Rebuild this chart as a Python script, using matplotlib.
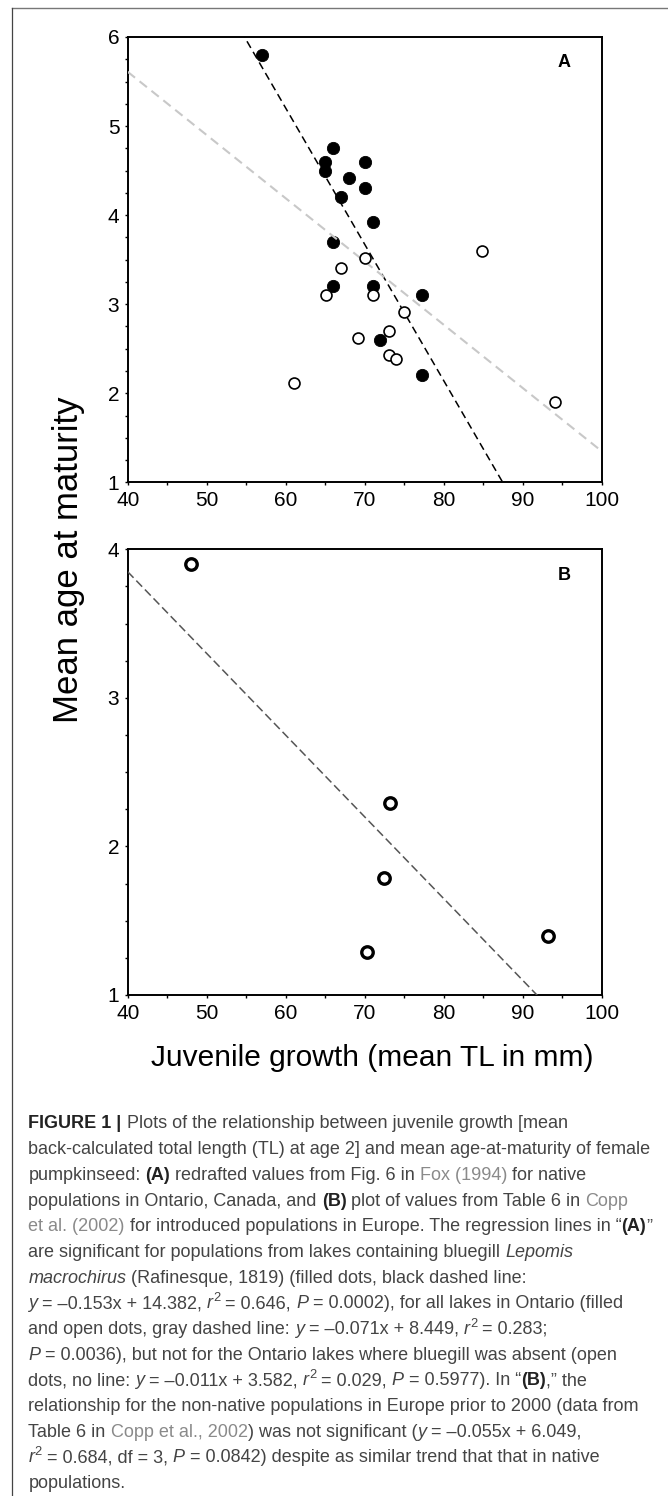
import numpy as np
import matplotlib
matplotlib.use("Agg")
import matplotlib.pyplot as plt
from matplotlib.lines import Line2D
from matplotlib.ticker import MultipleLocator
from matplotlib.transforms import IdentityTransform

W, H = 668, 1496

# panel A: native Ontario lakes (Fox 1994)
bluegill_x = [57, 66, 65, 65, 70, 68, 70, 67, 71, 66, 66, 71, 77.2, 71.9, 77.2]
bluegill_y = [5.8, 4.75, 4.6, 4.5, 4.6, 4.42, 4.3, 4.2, 3.92, 3.7, 3.2, 3.2, 3.1, 2.6, 2.2]
nobluegill_x = [84.9, 70, 67, 65.1, 71, 75, 73.1, 69.1, 73.1, 74, 61.1, 94.1]
nobluegill_y = [3.6, 3.52, 3.41, 3.1, 3.1, 2.91, 2.7, 2.62, 2.43, 2.38, 2.11, 1.9]

# regression lines (slope, intercept) from the caption
fit_bluegill = (-0.153, 14.382)
fit_all = (-0.071, 8.449)
fit_europe = (-0.055, 6.049)

# panel B: introduced populations in Europe (Copp et al. 2002)
europe_x = [48, 73.2, 72.4, 70.3, 93.2]
europe_y = [3.9, 2.29, 1.79, 1.29, 1.4]

x_range = [40, 100]

plt.rcParams['font.family'] = ['Liberation Sans', 'DejaVu Sans']

fig = plt.figure(figsize=(W / 100, H / 100), dpi=100)


def box(left, top, right, bottom):
    return [left / W, 1 - bottom / H, (right - left) / W, (bottom - top) / H]


axA = fig.add_axes(box(127.7, 37, 601.7, 482.3))
axB = fig.add_axes(box(127.7, 549.3, 601.7, 995))

xs = np.array(x_range, dtype=float)

# panel A
axA.scatter(bluegill_x, bluegill_y, s=78, color='black', edgecolor='black', lw=0.6, zorder=2)
axA.plot(xs, fit_bluegill[0] * xs + fit_bluegill[1], color='black', lw=1.1,
         dashes=(5, 3), zorder=3)
axA.plot(xs, fit_all[0] * xs + fit_all[1], color='#c8c8c8', lw=1.5,
         dashes=(4.5, 2.8), zorder=3)
axA.scatter(nobluegill_x, nobluegill_y, s=62, color='white', edgecolor='black', lw=1.2, zorder=4)
axA.set_ylim(1, 6)

# panel B
axB.plot(xs, fit_europe[0] * xs + fit_europe[1], color='#555555', lw=1.1,
         dashes=(5.5, 2.6), zorder=3)
axB.scatter(europe_x, europe_y, s=68, color='white', edgecolor='black', lw=2.4, zorder=4)
axB.set_ylim(1, 4)

for ax, letter in ((axA, 'A'), (axB, 'B')):
    ax.set_xlim(*x_range)
    ax.xaxis.set_major_locator(MultipleLocator(10))
    ax.xaxis.set_minor_locator(MultipleLocator(5))
    ax.yaxis.set_major_locator(MultipleLocator(1))
    ax.yaxis.set_minor_locator(MultipleLocator(0.25))
    ax.tick_params(which='both', direction='out', length=2.5, width=1.0,
                   top=False, right=False)
    ax.tick_params(axis='x', labelsize=15, pad=4.0)
    ax.tick_params(axis='y', labelsize=15, pad=3.5)
    for sp in ax.spines.values():
        sp.set_linewidth(1.4)
    ax.text(0.921, 0.942, letter, transform=ax.transAxes, ha='center', va='center',
            fontsize=13, fontweight='bold')

fig.text(372 / W, 1 - 1058 / H, 'Juvenile growth (mean TL in mm)', ha='center', va='center',
         fontsize=21.5)
fig.text(69 / W, 1 - 560 / H, 'Mean age at maturity', ha='center', va='center',
         rotation=90, fontsize=25)

# frame of the figure panel
fig.add_artist(Line2D([11.5 / W, 1], [1 - 8.3 / H] * 2, transform=fig.transFigure,
                      color='#777777', lw=1.0))
fig.add_artist(Line2D([11.5 / W] * 2, [0, 1 - 8.3 / H], transform=fig.transFigure,
                      color='#444444', lw=0.9))

# caption, one list of (text, style) per printed line
caption = [
    [("FIGURE 1 |", "b"), (" Plots of the relationship between juvenile growth [mean", "")],
    [("back-calculated total length (TL) at age 2] and mean age-at-maturity of female", "")],
    [("pumpkinseed: ", ""), ("(A)", "b"), (" redrafted values from Fig. 6 in ", ""),
     ("Fox (1994)", "l"), (" for native", "")],
    [("populations in Ontario, Canada, and ", ""), ("(B)", "b"),
     (" plot of values from Table 6 in ", ""), ("Copp", "l")],
    [("et al. (2002)", "l"), (" for introduced populations in Europe. The regression lines in \u201c", ""),
     ("(A)", "b"), ("\u201d", "")],
    [("are significant for populations from lakes containing bluegill ", ""), ("Lepomis", "i")],
    [("macrochirus", "i"), (" (Rafinesque, 1819) (filled dots, black dashed line:", "")],
    [("y", "i"), (" = \u20130.153x + 14.382, ", ""), ("r", "i"), ("2", "s"), (" = 0.646, ", ""),
     ("P", "i"), (" = 0.0002), for all lakes in Ontario (filled", "")],
    [("and open dots, gray dashed line: ", ""), ("y", "i"), (" = \u20130.071x + 8.449, ", ""),
     ("r", "i"), ("2", "s"), (" = 0.283;", "")],
    [("P", "i"), (" = 0.0036), but not for the Ontario lakes where bluegill was absent (open", "")],
    [("dots, no line: ", ""), ("y", "i"), (" = \u20130.011x + 3.582, ", ""), ("r", "i"), ("2", "s"),
     (" = 0.029, ", ""), ("P", "i"), (" = 0.5977). In \u201c", ""), ("(B)", "b"), (",\u201d the", "")],
    [("relationship for the non-native populations in Europe prior to 2000 (data from", "")],
    [("Table 6 in ", ""), ("Copp et al., 2002", "l"), (") was not significant (", ""), ("y", "i"),
     (" = \u20130.055x + 6.049,", "")],
    [("r", "i"), ("2", "s"), (" = 0.684, df = 3, ", ""), ("P", "i"),
     (" = 0.0842) despite as similar trend that that in native", "")],
    [("populations.", "")],
]

body_color = '#444444'
link_color = '#8a8a8a'
renderer = fig.canvas.get_renderer()


def props(style, size):
    p = dict(fontsize=size, color=body_color)
    if style == 'b':
        p['fontweight'] = 'bold'
        p['color'] = '#222222'
    elif style == 'i':
        p['fontstyle'] = 'italic'
    elif style == 'l':
        p['color'] = link_color
    elif style == 's':
        p['fontsize'] = size * 0.72
    return p


def advance(txt, style, size):
    t = fig.text(0, 0, '|' + txt + '|', transform=IdentityTransform(), **props(style, size))
    w1 = t.get_window_extent(renderer).width
    t.set_text('||')
    w2 = t.get_window_extent(renderer).width
    t.remove()
    return w1 - w2


def line_width(segs, size):
    return sum(advance(t, s, size) for t, s in segs)


# fit the font size so the long second line spans the same width as in the figure
cap_size = 10 * (651.7 - 28.3) / line_width(caption[1], 10)

x0 = 28.3
base0 = 1128.4
step = 25.7
for i, segs in enumerate(caption):
    x = x0
    base = H - (base0 + i * step)
    for txt, style in segs:
        stripped = txt.strip(' ')
        lead = len(txt) - len(txt.lstrip(' '))
        if lead:
            x += advance(' ' * lead, style, cap_size)
        y = base + (cap_size * 1.389 * 0.40 if style == 's' else 0)
        if stripped:
            fig.text(x, y, stripped, transform=IdentityTransform(), ha='left', va='baseline',
                     **props(style, cap_size))
            x += advance(stripped, style, cap_size)
        trail = len(txt) - len(txt.rstrip(' '))
        if trail and stripped:
            x += advance(' ' * trail, style, cap_size)

fig.savefig('out.png', dpi=100)
